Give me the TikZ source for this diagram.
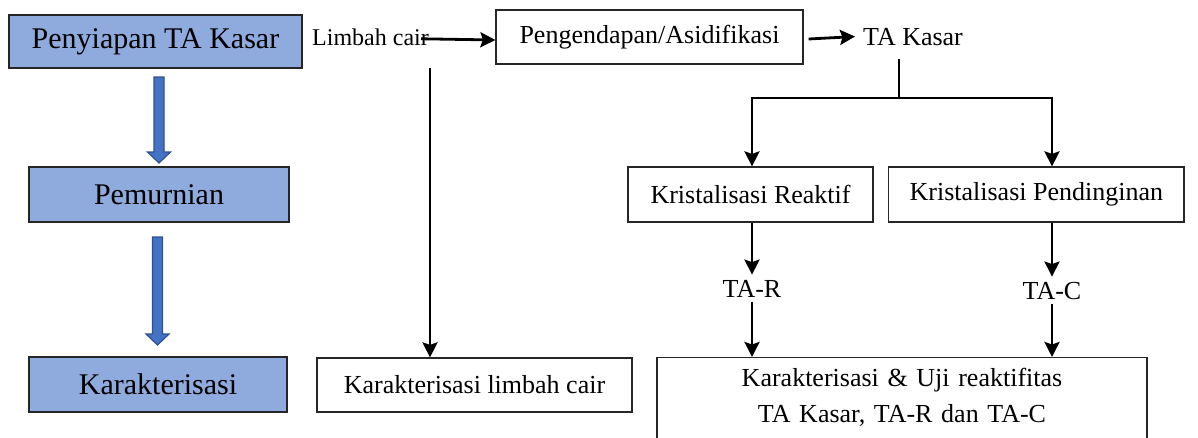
\documentclass[tikz,border=0pt]{standalone}
\usepackage{fontspec}
\setmainfont{Liberation Serif}
\usetikzlibrary{arrows.meta,calc}
\definecolor{boxblue}{HTML}{8FAADC}
\definecolor{arrblue}{HTML}{4472C4}
\definecolor{arredge}{HTML}{2F528F}
\newcommand\blockarrow[2]{\draw[blockarr] ($(#1)+(-5,0)$) -- ($(#2)+(-5,-11)$) -- ($(#2)+(-11.5,-11)$) -- (#2) -- ($(#2)+(11.5,-11)$) -- ($(#2)+(5,-11)$) -- ($(#1)+(5,0)$) -- cycle;}
\begin{document}
\begin{tikzpicture}[x=1pt,y=-1pt,
  stage/.style={draw=black!85, fill=boxblue, line width=1.2pt, inner sep=0pt,
    font=\fontsize{30}{34}\selectfont},
  plainbox/.style={draw=black!85, line width=1.2pt, inner sep=0pt,
    font=\fontsize{26}{30}\selectfont},
  txt/.style={inner sep=0pt, font=\fontsize{26}{30}\selectfont},
  arr/.style={line width=2.8pt, -{Stealth[length=15pt,width=15pt,inset=2.5pt]}},
  thinline/.style={line width=1.5pt},
  blockarr/.style={fill=arrblue, draw=arredge, line width=1.2pt}]
\useasboundingbox (0,0) rectangle (1198,437);

% left column
\node[stage, minimum width=293, minimum height=53] (pen) at (155.5,41.5) {Penyiapan TA Kasar};
\node[stage, minimum width=260, minimum height=55] (pem) at (159,194.5) {Pemurnian};
\node[stage, minimum width=258, minimum height=55] (kar) at (158,384.5) {Karakterisasi};
\coordinate (b1t) at (159,77);
\coordinate (b1h) at (159,163);
\coordinate (b2t) at (157.5,237);
\coordinate (b2h) at (157.5,345);
\blockarrow{b1t}{b1h}
\blockarrow{b2t}{b2h}

% top row
\node[txt, anchor=base west, font=\fontsize{24}{28}\selectfont] (limbah) at (312,45) {Limbah cair};
\node[plainbox, minimum width=307, minimum height=54] (peng) at (649.5,37) {Pengendapan/Asidifikasi};
\node[txt, anchor=base west] (tak) at (863,45) {TA Kasar};
\draw[arr] ([xshift=-8pt,yshift=-2pt]limbah.east) -- ([yshift=-3pt]peng.west);
\draw[arr] ([xshift=5pt,yshift=-2pt]peng.east) -- ([xshift=-8pt]tak.west);

% limbah branch
\node[plainbox, minimum width=315, minimum height=54] (kl) at (474.5,385) {Karakterisasi limbah cair};
\coordinate (lv) at (430,68);
\draw[arr] (lv) -- (lv |- kl.north);

% crystallisation branch
\node[plainbox, minimum width=245, minimum height=55] (kr) at (750.5,194.5) {Kristalisasi Reaktif};
\node[plainbox, anchor=west, minimum height=55, inner xsep=21] (kp) at (888,194.5) {Kristalisasi Pendinginan\hspace{40pt}};
\coordinate (jt) at (899,59);
\coordinate (j) at (899,98);
\coordinate (bl) at (752,98);
\coordinate (br) at (1052,98);
\draw[thinline] (jt) -- (j);
\draw[thinline] (bl) -- (br);
\draw[arr] ([yshift=0.7pt]bl) -- (bl |- kr.north);
\draw[arr] ([yshift=0.7pt]br) -- (br |- kp.north);

\node[txt, anchor=base, inner ysep=5] (tar) at (752,297) {TA-R};
\node[txt, anchor=base, inner ysep=5] (tac) at (1052,299) {TA-C};
\draw[arr] (bl |- kr.south) -- (tar.north);
\draw[arr] (br |- kp.south) -- (tac.north);

\node[plainbox, anchor=north, minimum width=490, text width=470, align=center, inner ysep=11,
  font=\fontsize{26}{36}\selectfont] (kb) at (902,357)
  {Karakterisasi \& Uji reaktifitas\\TA Kasar, TA-R dan TA-C\\ \strut};
\draw[arr] (tar.south) -- (tar.south |- kb.north);
\draw[arr] (tac.south) -- (tac.south |- kb.north);
\end{tikzpicture}
\end{document}
